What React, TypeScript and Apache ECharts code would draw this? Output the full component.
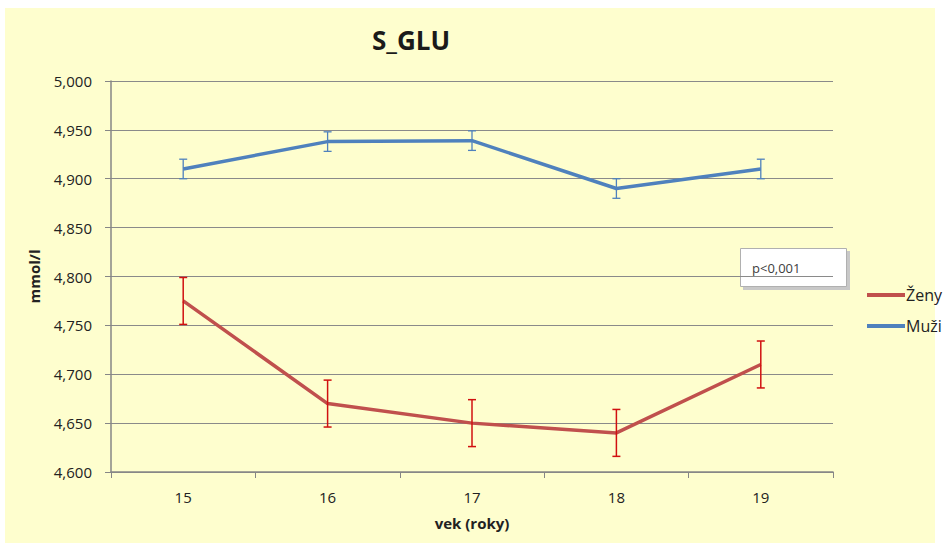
import React, { useEffect, useRef } from "react";
import * as echarts from "echarts";

const categories = ["15", "16", "17", "18", "19"];
const zeny = [4.775, 4.67, 4.65, 4.64, 4.71];
const zenyErr = [0.024, 0.024, 0.024, 0.024, 0.024];
const muzi = [4.91, 4.938, 4.939, 4.89, 4.91];
const muziErr = [0.01, 0.01, 0.01, 0.01, 0.01];

const FONT = "'Open Sans', 'Liberation Sans', sans-serif";

function errSeries(name: string, vals: number[], errs: number[], color: string, width: number) {
  return {
    type: "custom",
    name: name + "_err",
    z: 5,
    silent: true,
    data: vals.map((v, i) => [i, v - errs[i], v + errs[i]]),
    renderItem: (params: any, api: any) => {
      const x = api.value(0);
      const lo = api.coord([x, api.value(1)]);
      const hi = api.coord([x, api.value(2)]);
      const cap = 4;
      const style = { stroke: color, lineWidth: width };
      return {
        type: "group",
        children: [
          { type: "line", shape: { x1: lo[0], y1: lo[1], x2: hi[0], y2: hi[1] }, style },
          { type: "line", shape: { x1: lo[0] - cap, y1: lo[1], x2: lo[0] + cap, y2: lo[1] }, style },
          { type: "line", shape: { x1: hi[0] - cap, y1: hi[1], x2: hi[0] + cap, y2: hi[1] }, style },
        ],
      };
    },
  };
}

export default function App() {
  const ref = useRef<HTMLDivElement>(null);
  useEffect(() => {
    const chart = echarts.init(ref.current!, null, { renderer: "svg" });
    chart.setOption({
      animation: false,
      backgroundColor: "#ffffff",
      graphic: [
        {
          type: "rect",
          z: -10,
          shape: { x: 5, y: 8, width: 930, height: 535 },
          style: { fill: "#FEFECE" },
        },
        {
          type: "group",
          z: 10,
          children: [
            {
              type: "rect",
              shape: { x: 743, y: 251, width: 107, height: 39 },
              style: { fill: "#c8c8c8" },
            },
            {
              type: "rect",
              shape: { x: 740.5, y: 248.5, width: 106, height: 38 },
              style: { fill: "#ffffff", stroke: "#b0b0b0", lineWidth: 1 },
            },
            {
              type: "text",
              x: 752,
              y: 268,
              style: {
                text: "p<0,001",
                font: "13px " + FONT,
                fill: "#404040",
                verticalAlign: "middle",
              },
            },
          ],
        },
      ],
      title: {
        text: "S_GLU",
        left: 406,
        top: 22,
        textAlign: "center",
        textStyle: { fontFamily: FONT, fontSize: 26, fontWeight: "bold", color: "#1a1a1a" },
      },
      legend: {
        orient: "vertical",
        left: 862,
        top: 282,
        itemWidth: 38,
        itemHeight: 4,
        itemGap: 15,
        icon: "rect",
        data: ["Ženy", "Muži"],
        textStyle: { fontFamily: FONT, fontSize: 16, color: "#222", padding: [0, 0, 0, -4] },
      },
      grid: { left: 111, right: 110, top: 81, bottom: 76 },
      xAxis: {
        type: "category",
        data: categories,
        boundaryGap: true,
        name: "vek (roky)",
        nameLocation: "middle",
        nameGap: 43,
        nameTextStyle: { fontFamily: FONT, fontSize: 15, fontWeight: "bold", color: "#222" },
        axisLine: { lineStyle: { color: "#868686", width: 1.5 } },
        axisTick: { show: true, length: 6, lineStyle: { color: "#868686" } },
        axisLabel: { fontFamily: FONT, fontSize: 15, color: "#222", margin: 17 },
      },
      yAxis: {
        type: "value",
        min: 4.6,
        max: 5.0,
        interval: 0.05,
        name: "mmol/l",
        nameLocation: "middle",
        nameGap: 70,
        nameRotate: 90,
        nameTextStyle: { fontFamily: FONT, fontSize: 15, fontWeight: "bold", color: "#222" },
        axisLine: { show: true, lineStyle: { color: "#868686", width: 1.5 } },
        axisTick: { show: true, length: 6, lineStyle: { color: "#868686" } },
        axisLabel: {
          fontFamily: FONT,
          fontSize: 15,
          color: "#222",
          margin: 19,
          formatter: (v: number) => v.toFixed(3).replace(".", ","),
        },
        splitLine: { lineStyle: { color: "#8a8a8a", width: 1.2 } },
      },
      series: [
        {
          name: "Ženy",
          type: "line",
          data: zeny,
          symbol: "none",
          color: "#C0504D",
          lineStyle: { color: "#C0504D", width: 3.5 },
          z: 3,
        },
        {
          name: "Muži",
          type: "line",
          data: muzi,
          symbol: "none",
          color: "#4F81BD",
          lineStyle: { color: "#4F81BD", width: 3.5 },
          z: 3,
        },
        errSeries("Ženy", zeny, zenyErr, "#D01010", 1.5),
        errSeries("Muži", muzi, muziErr, "#4F81BD", 1.3),
      ],
    });
    return () => chart.dispose();
  }, []);
  return (
    <div
      ref={ref}
      style={{ position: "absolute", left: 0, top: 0, width: 943, height: 548 }}
    />
  );
}
